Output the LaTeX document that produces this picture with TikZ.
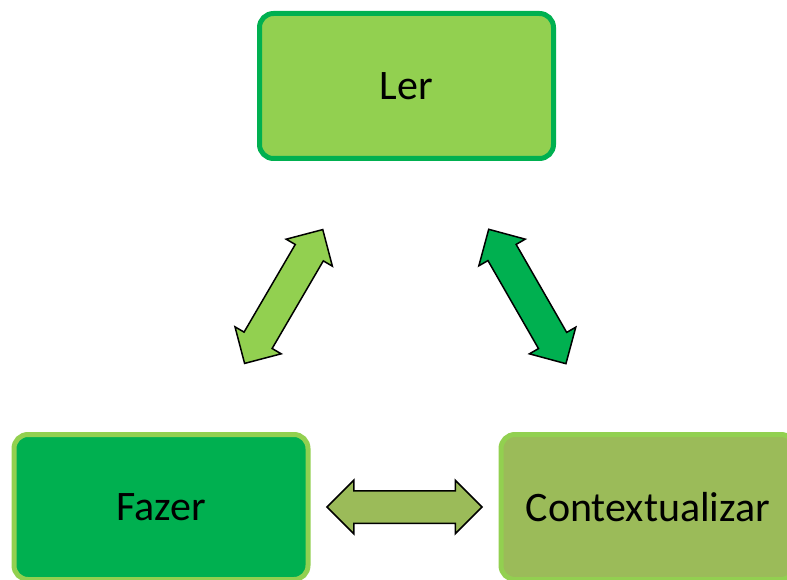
\documentclass[tikz,border=0pt]{standalone}
\usepackage{fontspec}
\setmainfont{Carlito}
\usepackage{tikz}
\usetikzlibrary{positioning,shapes,shapes.arrows,calc}
\definecolor{verdeclaro}{HTML}{92D050}
\definecolor{verde}{HTML}{00B050}
\definecolor{oliva}{HTML}{9BBB59}

\begin{document}
\begin{tikzpicture}[x=1pt,y=1pt,
  box/.style={rectangle, rounded corners=14pt, line width=5pt,
    minimum width=294pt, minimum height=145pt,
    font=\fontsize{42}{50}\selectfont},
  fatarrow/.style={double arrow, draw=black, line width=1.5pt,
    minimum height=155pt, inner xsep=0pt, inner ysep=15.5pt,
    double arrow head extend=10.5pt, double arrow tip angle=90, sloped}]
  \useasboundingbox (0,0) rectangle (787,579);

  \node[box, fill=verdeclaro, draw=verde] (ler) at (406.5,493) {Ler};
  \node[box, fill=verde, draw=verdeclaro] (fazer) at (161,72) {Fazer};
  \node[box, fill=oliva, draw=verdeclaro] (contexto) at (648,72) {Contextualizar};

  % setas duplas entre as caixas
  \path (ler) -- node[fatarrow, fill=verdeclaro] {} (fazer);
  \path (ler) -- node[fatarrow, fill=verde] {} (contexto);
  \path (fazer) -- node[fatarrow, fill=oliva] {} (contexto);

\end{tikzpicture}
\end{document}
